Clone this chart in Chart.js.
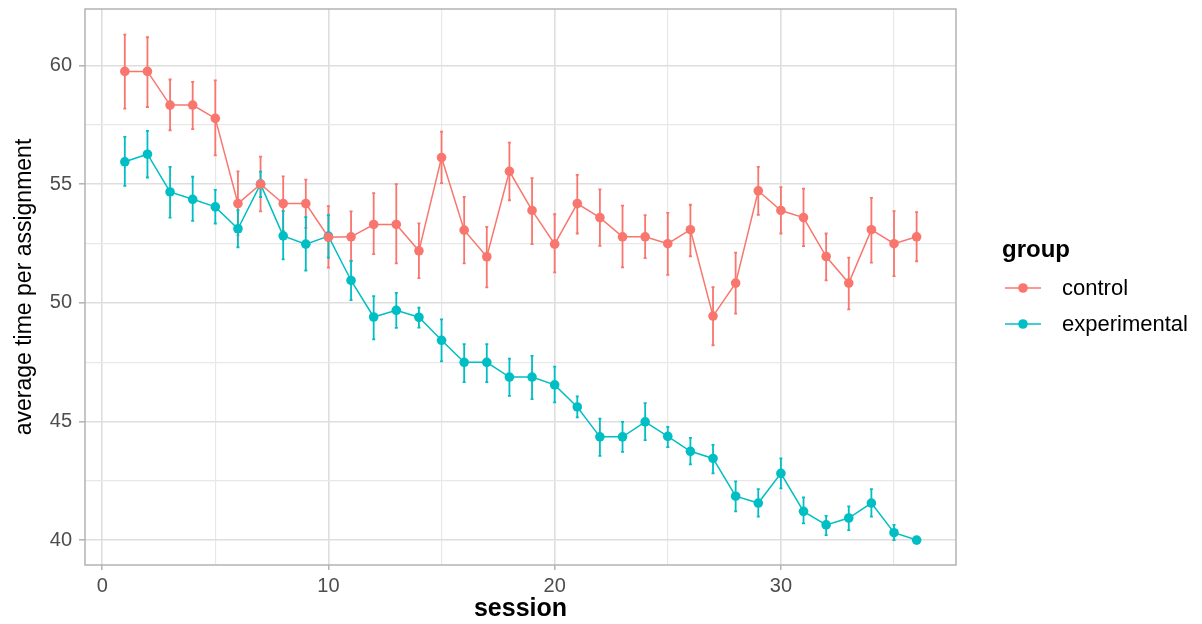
<!DOCTYPE html>
<html>
<head>
<meta charset="utf-8">
<script src="https://cdn.jsdelivr.net/npm/chart.js@4/dist/chart.umd.min.js"></script>
<style>
  html, body { margin: 0; padding: 0; background: #ffffff; }
  #c { display: block; }
</style>
</head>
<body>
<canvas id="c" width="1202" height="624"></canvas>
<script>
const sessions = [1,2,3,4,5,6,7,8,9,10,11,12,13,14,15,16,17,18,19,20,21,22,23,24,25,26,27,28,29,30,31,32,33,34,35,36];

const controlMean = [59.75,59.75,58.33,58.33,57.77,54.18,55.00,54.18,54.18,52.76,52.78,53.30,53.30,52.19,56.12,53.06,51.94,55.54,53.89,52.47,54.18,53.59,52.78,52.78,52.49,53.08,49.44,50.83,54.72,53.89,53.59,51.95,50.83,53.08,52.49,52.78];
const controlLow  = [58.18,58.25,57.27,57.32,56.21,52.84,53.85,53.03,53.16,51.48,51.78,52.05,51.66,51.04,55.04,51.66,50.65,54.32,52.47,51.28,52.92,52.40,51.49,51.88,51.18,51.96,48.21,49.54,53.71,52.92,52.39,50.94,49.72,51.69,51.12,51.75];
const controlHigh = [61.30,61.19,59.41,59.31,59.37,55.54,56.16,55.33,55.19,54.07,53.85,54.62,55.00,53.35,57.21,54.46,53.20,56.75,55.25,53.73,55.39,54.78,54.09,53.69,53.79,54.13,50.66,52.11,55.73,54.87,54.81,52.92,51.90,54.42,53.86,53.82];

const expMean = [55.94,56.26,54.67,54.36,54.04,53.12,55.00,52.82,52.47,52.81,50.94,49.40,49.68,49.39,48.42,47.49,47.49,46.87,46.87,46.54,45.61,44.35,44.35,44.98,44.37,43.74,43.44,41.85,41.56,42.81,41.21,40.64,40.93,41.56,40.31,40.00];
const expLow  = [54.93,55.28,53.59,53.45,53.34,52.34,54.45,51.83,51.36,51.90,50.11,48.46,48.94,48.95,47.53,46.66,46.66,46.08,45.94,45.80,45.17,43.55,43.72,44.21,43.92,43.19,42.81,41.21,40.99,42.18,40.70,40.21,40.42,40.99,40.00,40.00];
const expHigh = [56.99,57.24,55.73,55.31,54.76,53.90,55.53,53.86,53.61,53.69,51.75,50.28,50.42,49.79,49.30,48.26,48.26,47.65,47.76,47.31,46.06,45.12,44.98,45.77,44.77,44.31,44.01,42.47,42.15,43.44,41.80,41.02,41.42,42.15,40.64,40.00];

const groupNames = ['control', 'experimental'];
const groupColors = ['#F8766D', '#00BFC4'];

const xTitle = 'session';
const yTitle = 'average time per assignment';
const legendTitle = 'group';

Chart.defaults.font.family = "'Liberation Sans', Arial, Helvetica, sans-serif";

const pts = (ys) => sessions.map((s, i) => ({ x: s, y: ys[i] }));

const errorBars = [
  { low: controlLow, high: controlHigh },
  { low: expLow, high: expHigh }
];

const errorBarPlugin = {
  id: 'errorBars',
  beforeDatasetsDraw(chart) {
    const { ctx, scales: { x, y } } = chart;
    ctx.save();
    chart.data.datasets.forEach((ds, di) => {
      const eb = errorBars[di];
      ctx.strokeStyle = ds.borderColor;
      ctx.lineWidth = 1.8;
      sessions.forEach((s, i) => {
        const px = x.getPixelForValue(s);
        const pl = y.getPixelForValue(eb.low[i]);
        const ph = y.getPixelForValue(eb.high[i]);
        if (Math.abs(pl - ph) < 0.5) return;
        ctx.beginPath();
        ctx.moveTo(px, pl); ctx.lineTo(px, ph);
        ctx.moveTo(px - 1.5, pl); ctx.lineTo(px + 1.5, pl);
        ctx.moveTo(px - 1.5, ph); ctx.lineTo(px + 1.5, ph);
        ctx.stroke();
      });
    });
    ctx.restore();
  }
};

const borderPlugin = {
  id: 'panelBorder',
  afterDatasetsDraw(chart) {
    const { ctx, chartArea: a } = chart;
    ctx.save();
    ctx.strokeStyle = '#B3B3B3';
    ctx.lineWidth = 1.5;
    ctx.strokeRect(a.left, a.top, a.right - a.left, a.bottom - a.top);
    ctx.restore();
  }
};

const legendPlugin = {
  id: 'ggLegend',
  afterDraw(chart) {
    const { ctx } = chart;
    ctx.save();
    ctx.fillStyle = '#000000';
    ctx.textAlign = 'left';
    ctx.textBaseline = 'alphabetic';
    ctx.font = "bold 24px 'Liberation Sans', Arial, sans-serif";
    ctx.fillText(legendTitle, 1002, 257);
    const rowY = [288, 324];
    groupNames.forEach((name, i) => {
      const yy = rowY[i];
      ctx.strokeStyle = groupColors[i];
      ctx.lineWidth = 1.5;
      ctx.beginPath(); ctx.moveTo(1005, yy); ctx.lineTo(1041, yy); ctx.stroke();
      ctx.fillStyle = groupColors[i];
      ctx.beginPath(); ctx.arc(1023, yy, 4.8, 0, Math.PI * 2); ctx.fill();
      ctx.fillStyle = '#000000';
      ctx.font = "22px 'Liberation Sans', Arial, sans-serif";
      ctx.textBaseline = 'middle';
      ctx.fillText(name, 1062, yy + 1);
    });
    ctx.restore();
  }
};

const isMult = (v, m) => Math.abs(v / m - Math.round(v / m)) < 1e-6;

new Chart(document.getElementById('c'), {
  type: 'scatter',
  data: {
    datasets: [
      {
        label: groupNames[0],
        data: pts(controlMean),
        showLine: true,
        borderColor: groupColors[0],
        backgroundColor: groupColors[0],
        borderWidth: 1.5,
        pointRadius: 4.8,
        pointBorderWidth: 0,
        pointBackgroundColor: groupColors[0]
      },
      {
        label: groupNames[1],
        data: pts(expMean),
        showLine: true,
        borderColor: groupColors[1],
        backgroundColor: groupColors[1],
        borderWidth: 1.5,
        pointRadius: 4.8,
        pointBorderWidth: 0,
        pointBackgroundColor: groupColors[1]
      }
    ]
  },
  options: {
    responsive: false,
    animation: false,
    layout: { padding: { left: 0, right: 246, top: 9, bottom: 0 } },
    plugins: {
      legend: { display: false },
      tooltip: { enabled: false }
    },
    scales: {
      x: {
        type: 'linear',
        min: -0.76,
        max: 37.74,
        afterFit(scale) { scale.height = 59; scale.paddingLeft = 0; scale.paddingRight = 0; },
        ticks: {
          stepSize: 5,
          includeBounds: false,
          autoSkip: false,
          maxRotation: 0,
          padding: 4,
          color: '#4D4D4D',
          font: { size: 20 },
          callback: (v) => isMult(v, 10) ? String(v) : ''
        },
        grid: {
          color: (c) => (c.tick && isMult(c.tick.value, 10)) ? '#DEDEDE' : '#E8E8E8',
          lineWidth: (c) => (c.tick && isMult(c.tick.value, 10)) ? 1.6 : 1.2,
          tickLength: 5,
          tickColor: (c) => (c.tick && isMult(c.tick.value, 10)) ? '#B3B3B3' : 'rgba(0,0,0,0)',
          tickWidth: 1.5
        },
        border: { display: false },
        title: {
          display: true,
          text: xTitle,
          color: '#000000',
          font: { size: 25, weight: 'bold' },
          padding: { top: 0, bottom: 0 }
        }
      },
      y: {
        type: 'linear',
        min: 38.95,
        max: 62.38,
        afterFit(scale) { scale.width = 85; scale.paddingTop = 0; scale.paddingBottom = 0; },
        ticks: {
          stepSize: 2.5,
          includeBounds: false,
          autoSkip: false,
          padding: 7,
          color: '#4D4D4D',
          font: { size: 20 },
          callback: (v) => isMult(v, 5) ? String(v) : ''
        },
        grid: {
          color: (c) => (c.tick && isMult(c.tick.value, 5)) ? '#DEDEDE' : '#E8E8E8',
          lineWidth: (c) => (c.tick && isMult(c.tick.value, 5)) ? 1.6 : 1.2,
          tickLength: 6,
          tickColor: (c) => (c.tick && isMult(c.tick.value, 5)) ? '#B3B3B3' : 'rgba(0,0,0,0)',
          tickWidth: 1.5
        },
        border: { display: false },
        title: {
          display: true,
          text: yTitle,
          color: '#000000',
          font: { size: 23 },
          padding: { top: 11, bottom: 0 }
        }
      }
    }
  },
  plugins: [errorBarPlugin, borderPlugin, legendPlugin]
});
</script>
</body>
</html>
